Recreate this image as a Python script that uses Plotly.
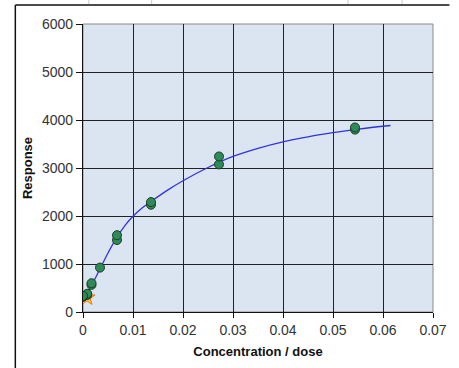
import plotly.graph_objects as go

# Measured data (dose, response)
dose = [0.0544, 0.0544, 0.0272, 0.0272, 0.0136, 0.0136, 0.0068, 0.0068,
        0.0034, 0.0017, 0.0017, 0.00085, 0.00085, 0.0, 0.0]
response = [3800, 3845, 3075, 3240, 2235, 2290, 1500, 1600,
            925, 565, 600, 355, 380, 315, 335]

# Highlighted (yellow) point
hl_dose = [0.0008]
hl_response = [300]

# Fitted curve
fit_dose = [0.0, 0.001, 0.002, 0.0034, 0.005, 0.0068, 0.0085, 0.01, 0.012, 0.0135,
            0.017, 0.02, 0.025, 0.03, 0.035, 0.04, 0.045, 0.05, 0.055, 0.0615]
fit_response = [290, 420, 610, 900, 1230, 1560, 1815, 1995, 2180, 2295,
                2545, 2735, 3010, 3240, 3410, 3545, 3650, 3735, 3810, 3885]

x_ticks = [0, 0.01, 0.02, 0.03, 0.04, 0.05, 0.06, 0.07]
x_ticktext = ["0", "0.01", "0.02", "0.03", "0.04", "0.05", "0.06", "0.07"]
y_ticks = [0, 1000, 2000, 3000, 4000, 5000, 6000]

fig = go.Figure()
fig.add_trace(go.Scatter(x=fit_dose, y=fit_response, mode="lines",
                         line=dict(color="#3333dd", width=1.3, shape="spline", smoothing=1.0),
                         showlegend=False, hoverinfo="skip"))
fig.add_trace(go.Scatter(x=hl_dose, y=hl_response, mode="markers",
                         marker=dict(symbol="star", size=12, color="#ffe033",
                                     line=dict(color="#ff6a00", width=1)),
                         showlegend=False))
fig.add_trace(go.Scatter(x=dose, y=response, mode="markers",
                         marker=dict(symbol="circle", size=9, color="#2e8b57",
                                     line=dict(color="#1b3d25", width=1)),
                         showlegend=False))

L, R, T, B = 83, 14, 24, 56
W, H = 459, 368
pw, ph = W - L - R, H - T - B

def px(x):
    return (x - L) / pw

def py(y):
    return (H - B - y) / ph

shapes = [
    # outer chart-area border (left and top)
    dict(type="line", xref="paper", yref="paper", x0=px(13), x1=px(13), y0=py(5), y1=py(370),
         line=dict(color="#111111", width=1.5)),
    dict(type="line", xref="paper", yref="paper", x0=px(13), x1=px(462), y0=py(5), y1=py(5),
         line=dict(color="#111111", width=1.5)),
]
# faint spreadsheet cell lines peeking above the chart
for sx in [89, 154, 357, 413]:
    shapes.append(dict(type="line", xref="paper", yref="paper", x0=px(sx), x1=px(sx),
                       y0=py(0), y1=py(4), line=dict(color="#cccccc", width=1)))
# plot area border (top/right, gray)
shapes.append(dict(type="rect", xref="paper", yref="paper", x0=0, x1=1, y0=0, y1=1,
                   line=dict(color="#8a8a8a", width=1), layer="below"))

fig.update_layout(
    width=W, height=H,
    margin=dict(l=L, r=R, t=T, b=B, pad=0),
    paper_bgcolor="white",
    plot_bgcolor="#dbe4f1",
    font=dict(family="Liberation Sans, Arial, sans-serif", size=14, color="#333333"),
    shapes=shapes,
    xaxis=dict(range=[0, 0.07], tickvals=x_ticks, ticktext=x_ticktext,
               showgrid=True, gridcolor="#222222", gridwidth=1,
               zeroline=False, showline=True, linecolor="#111111", linewidth=1.3,
               ticks="outside", ticklen=5, tickcolor="#111111",
               tickfont=dict(size=14, color="#333333"),
               title=dict(text="<b>Concentration / dose</b>", standoff=9,
                          font=dict(size=13, color="#111111"))),
    yaxis=dict(range=[0, 6000], tickvals=y_ticks,
               showgrid=True, gridcolor="#222222", gridwidth=1,
               zeroline=False, showline=True, linecolor="#111111", linewidth=1.3,
               ticks="outside", ticklen=6, tickcolor="#111111",
               tickfont=dict(size=14, color="#333333"),
               title=dict(text="<b>Response</b>", standoff=6,
                          font=dict(size=13, color="#111111"))),
)

fig.write_html("out.html")
